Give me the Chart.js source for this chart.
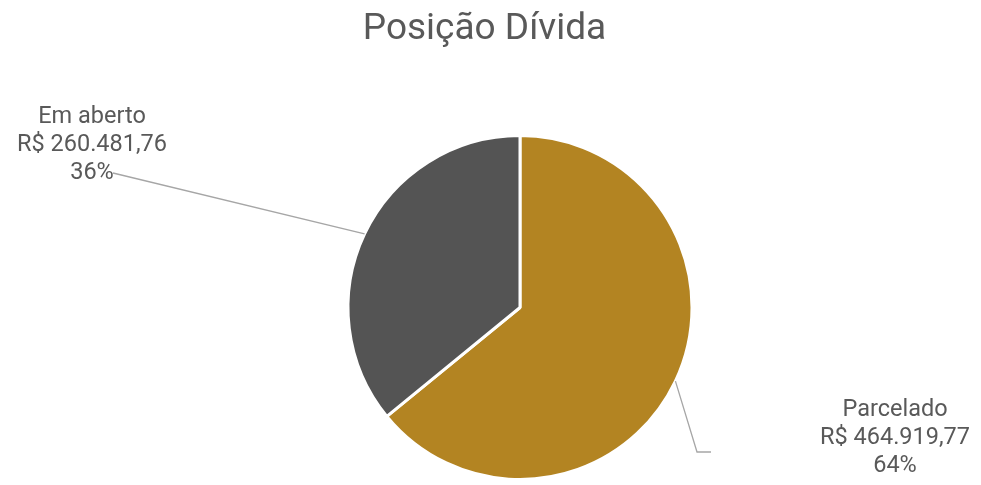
<!DOCTYPE html>
<html>
<head>
<meta charset="utf-8">
<script src="https://cdn.jsdelivr.net/npm/chart.js@4"></script>
<style>
  html, body { margin: 0; padding: 0; background: #fff; }
  #wrap { position: relative; width: 981px; height: 485px; }
  #title {
    position: absolute; left: -6px; top: 5px; width: 981px; text-align: center;
    font-family: Roboto, "Noto Sans", sans-serif; font-size: 37px; color: #595959;
  }
  canvas { position: absolute; left: 0; top: 0; }
</style>
</head>
<body>
<div id="wrap">
  <canvas id="chart" width="981" height="485"></canvas>
  <div id="title">Posição Dívida</div>
</div>
<script>
// data
const categories = ['Parcelado', 'Em aberto'];
const values = [464919.77, 260481.76];
const sliceColors = ['#B38422', '#545454'];

// where each label block sits and where its leader line ends
const labelAnchors = [
  { x: 895, y: 410, lineTo: [[697, 452], [711, 452]] },
  { x: 92, y: 117, lineTo: [[113, 173]] },
];

const brl = v => 'R$ ' + v.toLocaleString('pt-BR', { minimumFractionDigits: 2, maximumFractionDigits: 2 });

const pieLabels = {
  id: 'pieLabels',
  afterDatasetsDraw(chart) {
    const ctx = chart.ctx;
    const meta = chart.getDatasetMeta(0);
    const total = values.reduce((a, b) => a + b, 0);
    meta.data.forEach((arc, i) => {
      const a = labelAnchors[i];
      const mid = (arc.startAngle + arc.endAngle) / 2;
      const sx = arc.x + Math.cos(mid) * arc.outerRadius;
      const sy = arc.y + Math.sin(mid) * arc.outerRadius;
      ctx.save();
      ctx.strokeStyle = '#A6A6A6';
      ctx.lineWidth = 1.3;
      ctx.beginPath();
      ctx.moveTo(sx, sy);
      a.lineTo.forEach(p => ctx.lineTo(p[0], p[1]));
      ctx.stroke();
      ctx.fillStyle = '#595959';
      ctx.font = '23.5px Roboto, "Noto Sans", sans-serif';
      ctx.textAlign = 'center';
      ctx.textBaseline = 'middle';
      const lines = [categories[i], brl(values[i]), Math.round(values[i] / total * 100) + '%'];
      lines.forEach((t, k) => ctx.fillText(t, a.x, a.y + k * 28));
      ctx.restore();
    });
  }
};

new Chart(document.getElementById('chart'), {
  type: 'pie',
  data: {
    labels: categories,
    datasets: [{
      data: values,
      backgroundColor: sliceColors,
      borderColor: '#ffffff',
      borderWidth: 3,
    }]
  },
  options: {
    responsive: false,
    animation: false,
    layout: { padding: { top: 134, bottom: 4, left: 59, right: 0 } },
    plugins: {
      legend: { display: false },
      title: { display: false },
      tooltip: { enabled: false },
    },
  },
  plugins: [pieLabels],
});
</script>
</body>
</html>
